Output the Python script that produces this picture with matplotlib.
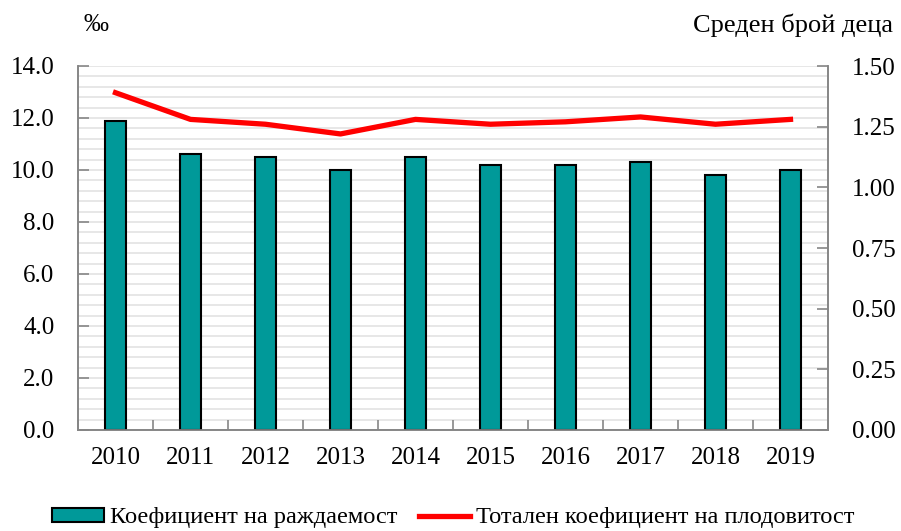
import matplotlib
matplotlib.use("Agg")
import matplotlib.pyplot as plt
import numpy as np
from matplotlib.patches import Patch
from matplotlib.lines import Line2D

plt.rcParams['font.family'] = ['Liberation Serif', 'DejaVu Serif']

years = ['2010', '2011', '2012', '2013', '2014', '2015', '2016', '2017', '2018', '2019']
birth_rate = [11.9, 10.6, 10.5, 10.0, 10.5, 10.2, 10.2, 10.3, 9.8, 10.0]
fertility = [1.39, 1.28, 1.26, 1.22, 1.28, 1.26, 1.27, 1.29, 1.26, 1.28]

bar_label = 'Коефициент на раждаемост'
line_label = 'Тотален коефициент на плодовитост'

FS = 18

fig = plt.figure(figsize=(9.01, 5.31), dpi=100)
ax = fig.add_axes([78/901, 1-430/531, 750/901, 364/531])
ax2 = ax.twinx()

x = np.arange(len(years))
ax.bar(x, birth_rate, width=0.29, color='#009999', edgecolor='black', linewidth=1.5, zorder=3)
ax.set_xlim(-0.5, len(years)-0.5)
ax.set_ylim(0, 14)
ax.set_yticks(np.arange(0, 14.01, 2.0))
ax.set_yticklabels([f'{v:.1f}' for v in np.arange(0, 14.01, 2.0)])
for gy in np.arange(0, 14.01, 0.4):
    ax.axhline(gy, color='#e3e3e3', linewidth=1.2, zorder=0)

ax2.plot(x, fertility, color='#ff0000', linewidth=3.8, zorder=4)
ax2.set_ylim(0, 1.5)
ax2.set_yticks(np.arange(0, 1.501, 0.25))
ax2.set_yticklabels([f'{v:.2f}' for v in np.arange(0, 1.501, 0.25)])

ax.set_xticks(x)
ax.set_xticklabels(years)
ax.set_xticks(np.arange(-0.5, len(years), 1.0), minor=True)
ax.tick_params(axis='x', which='major', length=0, pad=12, labelsize=FS)
ax.tick_params(axis='x', which='minor', direction='in', length=7, color='#868686', width=1.2)
ax.tick_params(axis='y', direction='in', length=8, color='#868686', width=1.2, pad=17, labelsize=FS)
ax2.tick_params(axis='y', direction='in', length=8, color='#868686', width=1.2, pad=17, labelsize=FS)

for a in (ax, ax2):
    a.spines['top'].set_visible(False)
    for s in ('left', 'right', 'bottom'):
        a.spines[s].set_color('#868686')
        a.spines[s].set_linewidth(1.2)

fig.text(96/901, 1-25/531, '‰', fontsize=FS, ha='center', va='center')
fig.text(893/901, 1-25/531, 'Среден брой деца', fontsize=19, ha='right', va='center')

handles = [Patch(facecolor='#009999', edgecolor='black', linewidth=1.5, label=bar_label),
           Line2D([0], [0], color='#ff0000', linewidth=3.8, label=line_label)]
fig.legend(handles=handles, loc='center', bbox_to_anchor=(453.5/901, 1-518/531), ncol=2,
           frameon=False, fontsize=17.6, handlelength=2.1, handletextpad=0.25, columnspacing=0.9,
           handleheight=0.5, borderpad=0, borderaxespad=0)

fig.savefig('out.png', dpi=100)
